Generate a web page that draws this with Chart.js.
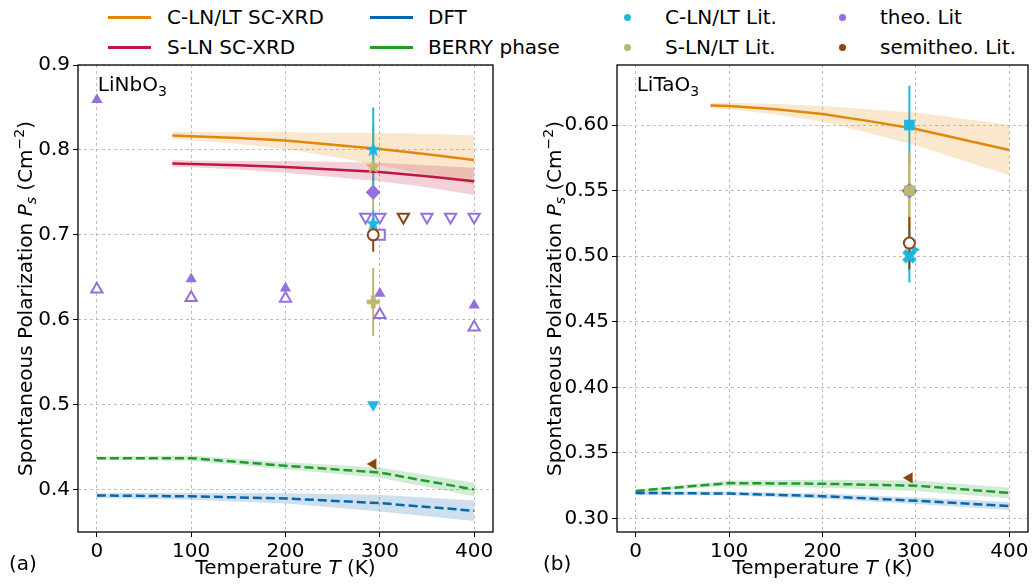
<!DOCTYPE html>
<html>
<head>
<meta charset="utf-8">
<script src="https://cdn.jsdelivr.net/npm/chart.js@4.4.0/dist/chart.umd.min.js"></script>
<style>
  body { margin: 0; background: #fff; width: 1036px; height: 585px; overflow: hidden; position: relative; font-family: "DejaVu Sans", sans-serif; }
  .panel { position: absolute; top: 0; width: 518px; height: 585px; }
  #legend div { position: absolute; }
  #legend .txt { font-size: 20px; line-height: 24px; height: 24px; white-space: nowrap; color: #000; }
</style>
</head>
<body>
<div id="legend"></div>
<div class="panel" style="left:0"><canvas id="chartLN" width="518" height="585"></canvas></div>
<div class="panel" style="left:518px"><canvas id="chartLT" width="518" height="585"></canvas></div>
<script>
// ticks
var xTicks = [0, 100, 200, 300, 400];
var lnYTicks = [0.4, 0.5, 0.6, 0.7, 0.8, 0.9];
var ltYTicks = [0.30, 0.35, 0.40, 0.45, 0.50, 0.55, 0.60];

// SC-XRD curves (value and half width of the shaded band)
var xrdT = [80, 100, 150, 200, 250, 300, 350, 400];
var lnCxrd = [0.817, 0.816, 0.814, 0.811, 0.806, 0.801, 0.795, 0.788];
var lnCxrdErr = [0.004, 0.005, 0.007, 0.010, 0.014, 0.019, 0.024, 0.029];
var lnSxrd = [0.784, 0.7835, 0.782, 0.780, 0.777, 0.774, 0.769, 0.763];
var lnSxrdErr = [0.004, 0.004, 0.005, 0.007, 0.009, 0.011, 0.013, 0.016];
var ltCxrd = [0.615, 0.6145, 0.612, 0.6085, 0.603, 0.597, 0.589, 0.581];
var ltCxrdErr = [0.002, 0.0025, 0.004, 0.006, 0.009, 0.0125, 0.016, 0.019];

// DFT / Berry phase curves
var calcT = [0, 100, 200, 300, 400];
var lnDft = [0.393, 0.392, 0.3895, 0.384, 0.375];
var lnDftErr = [0.003, 0.004, 0.006, 0.010, 0.012];
var lnBerry = [0.437, 0.437, 0.428, 0.420, 0.400];
var lnBerryErr = [0.002, 0.003, 0.004, 0.006, 0.008];
var ltDft = [0.3195, 0.319, 0.317, 0.3135, 0.3095];
var ltDftErr = [0.0015, 0.0015, 0.002, 0.0025, 0.003];
var ltBerry = [0.321, 0.327, 0.3265, 0.325, 0.3195];
var ltBerryErr = [0.001, 0.002, 0.003, 0.004, 0.004];

// literature points: [T, Ps, error]
var lnTheoUpFilled = [[0, 0.859], [100, 0.648], [200, 0.637], [300, 0.631], [400, 0.617]];
var lnTheoUpOpen = [[0, 0.636], [100, 0.626], [200, 0.625], [300, 0.606], [400, 0.591]];
var lnTheoDownOpen = [[285, 0.721], [300, 0.721], [350, 0.721], [375, 0.721], [400, 0.721]];
var lnTheoDiamond = [[293, 0.750]];
var lnTheoSquare = [[300, 0.700]];
var lnSemiDownOpen = [[325, 0.721]];
var lnSemiCircle = [[293, 0.700, 0.020]];
var lnSemiLeft = [[293, 0.430]];
var lnCLitStar = [[293, 0.800, 0.050], [293, 0.713, 0.017]];
var lnCLitDown = [[293, 0.500]];
var lnSLitStar = [[293, 0.780, 0.050]];
var lnSLitPlus = [[293, 0.621, 0.040]];

var ltCLitSquare = [[293, 0.600, 0.030]];
var ltCLitX = [[293, 0.500, 0.020]];
var ltCLitRight = [[299, 0.505]];
var ltSLitSquare = [[293, 0.550, 0.030]];
var ltTheoDiamond = [[293, 0.550]];
var ltSemiCircle = [[293, 0.510, 0.020]];
var ltSemiLeft = [[293, 0.331]];

var lineNames = ['C-LN/LT SC-XRD', 'S-LN SC-XRD', 'DFT', 'BERRY phase'];
var litNames = ['C-LN/LT Lit.', 'S-LN/LT Lit.', 'theo. Lit', 'semitheo. Lit.'];

var ORANGE = '#e3870b', CRIMSON = '#bf1742', BLUE = '#0866ab', GREEN = '#1f9a2b';
var CYAN = '#1eb6de', OLIVE = '#bdb76b', PURPLE = '#9370db', BROWN = '#8b4513';
var FONT = '"DejaVu Sans", sans-serif';

// legend
(function () {
  var leg = document.getElementById('legend');
  var rows = [17, 47];
  function add(html, style) {
    var d = document.createElement('div');
    d.innerHTML = html;
    d.setAttribute('style', style);
    leg.appendChild(d);
    return d;
  }
  var lineCols = [[108, 167], [370, 428]];
  var lineColors = [ORANGE, CRIMSON, BLUE, GREEN];
  lineNames.forEach(function (name, i) {
    var col = lineCols[Math.floor(i / 2)], y = rows[i % 2];
    add('', 'left:' + col[0] + 'px;top:' + (y - 1) + 'px;width:43px;height:3px;background:' + lineColors[i]);
    var t = add('', 'left:' + col[1] + 'px;top:' + (y - 12) + 'px');
    t.className = 'txt';
    t.textContent = name;
  });
  var dotCols = [[627, 665], [842, 880]];
  var dotColors = [CYAN, OLIVE, PURPLE, BROWN];
  litNames.forEach(function (name, i) {
    var col = dotCols[Math.floor(i / 2)], y = rows[i % 2];
    add('', 'left:' + (col[0] - 3.5) + 'px;top:' + (y - 3.5) + 'px;width:7px;height:7px;border-radius:50%;background:' + dotColors[i]);
    var t = add('', 'left:' + col[1] + 'px;top:' + (y - 12) + 'px');
    t.className = 'txt';
    t.textContent = name;
  });
})();

function glyph(kind, color, r) {
  var s = Math.ceil(2 * r + 2);
  var c = document.createElement('canvas');
  c.width = s; c.height = s;
  var g = c.getContext('2d');
  g.translate(s / 2, s / 2);
  g.fillStyle = color;
  g.beginPath();
  if (kind === 'star') {
    for (var i = 0; i < 10; i++) {
      var a = -Math.PI / 2 + i * Math.PI / 5;
      var rr = i % 2 ? r * 0.42 : r;
      g.lineTo(rr * Math.cos(a), rr * Math.sin(a));
    }
  } else {
    if (kind === 'x') g.rotate(Math.PI / 4);
    var w = r * 0.36;
    [[-w, -r], [w, -r], [w, -w], [r, -w], [r, w], [w, w], [w, r], [-w, r], [-w, w], [-r, w], [-r, -w], [-w, -w]]
      .forEach(function (p) { g.lineTo(p[0], p[1]); });
  }
  g.closePath();
  g.fill();
  return c;
}

function pts(xs, ys) {
  return xs.map(function (x, i) { return { x: x, y: ys[i] }; });
}

function curve(xs, ys, color, dashed) {
  return { type: 'line', data: pts(xs, ys), borderColor: color, borderWidth: 2.5,
    borderDash: dashed ? [9, 4] : [], pointRadius: 0, fill: false, tension: 0, showLine: true };
}

function band(xs, ys, hw, color) {
  var lo = ys.map(function (v, i) { return v - hw[i]; });
  var hi = ys.map(function (v, i) { return v + hw[i]; });
  return [
    { type: 'line', data: pts(xs, lo), borderColor: 'transparent', borderWidth: 0, pointRadius: 0, fill: false, showLine: true },
    { type: 'line', data: pts(xs, hi), borderColor: 'transparent', borderWidth: 0, pointRadius: 0, fill: '-1', backgroundColor: color, showLine: true }
  ];
}

function marks(list, o) {
  return {
    type: 'scatter', showLine: false,
    data: list.map(function (p) { return { x: p[0], y: p[1] }; }),
    errs: list.map(function (p) { return p[2] || 0; }),
    errColor: o.color,
    pointStyle: o.style, pointRadius: o.r || 6,
    pointBackgroundColor: o.open ? '#ffffff' : o.color,
    pointBorderColor: o.color, pointBorderWidth: o.open ? 2 : 0,
    pointRotation: o.rot || 0
  };
}

var errorBars = {
  id: 'errorBars',
  beforeDatasetsDraw: function (chart) {
    var ctx = chart.ctx, xs = chart.scales.x, ys = chart.scales.y;
    chart.data.datasets.forEach(function (ds) {
      if (!ds.errs) return;
      ctx.save();
      ctx.strokeStyle = ds.errColor;
      ctx.lineWidth = 2;
      ds.data.forEach(function (p, i) {
        var e = ds.errs[i];
        if (!e) return;
        var px = xs.getPixelForValue(p.x);
        ctx.beginPath();
        ctx.moveTo(px, ys.getPixelForValue(p.y - e));
        ctx.lineTo(px, ys.getPixelForValue(p.y + e));
        ctx.stroke();
      });
      ctx.restore();
    });
  }
};

function drawRich(ctx, segs, x, y, angle) {
  function fontFor(s) { return (s.it ? 'italic ' : '') + (s.sub || s.sup ? 14 : 20) + 'px ' + FONT; }
  var w = 0;
  segs.forEach(function (s) { ctx.font = fontFor(s); s.w = ctx.measureText(s.t).width; w += s.w; });
  ctx.save();
  ctx.translate(x, y);
  ctx.rotate(angle);
  ctx.fillStyle = '#000';
  ctx.textBaseline = 'alphabetic';
  var cx = -w / 2;
  segs.forEach(function (s) {
    ctx.font = fontFor(s);
    ctx.fillText(s.t, cx, s.sub ? 4 : (s.sup ? -8 : 0));
    cx += s.w;
  });
  ctx.restore();
}

function textPlugin(label, compound, titleX, panelX) {
  return {
    id: 'texts',
    afterDatasetsDraw: function (chart) {
      var a = chart.chartArea, ctx = chart.ctx;
      ctx.save();
      ctx.strokeStyle = '#000';
      ctx.lineWidth = 1.3;
      ctx.strokeRect(a.left, a.top, a.right - a.left, a.bottom - a.top);
      ctx.restore();
    },
    afterDraw: function (chart) {
      var a = chart.chartArea, ctx = chart.ctx;
      // compound label in the corner
      ctx.save();
      ctx.fillStyle = '#000';
      ctx.textBaseline = 'alphabetic';
      ctx.font = '20px ' + FONT;
      var lx = chart.scales.x.getPixelForValue(0) + 1;
      ctx.fillText(compound, lx, 91);
      var cw = ctx.measureText(compound).width;
      ctx.font = '14px ' + FONT;
      ctx.fillText('3', lx + cw, 96);
      ctx.font = '20px ' + FONT;
      ctx.fillText(label, panelX, 570);
      ctx.restore();
      drawRich(ctx, [{ t: 'Temperature ' }, { t: 'T', it: true }, { t: ' (K)' }], (a.left + a.right) / 2, 574, 0);
      drawRich(ctx, [{ t: 'Spontaneous Polarization ' }, { t: 'P', it: true }, { t: 's', it: true, sub: true },
        { t: ' (Cm' }, { t: '\u22122', sup: true }, { t: ')' }], titleX, (a.top + a.bottom) / 2, -Math.PI / 2);
    }
  };
}

function makeChart(id, datasets, yMin, yMax, yTicks, digits, yWidth, padRight, plugin) {
  datasets.forEach(function (d, i) { d.order = datasets.length - i; });
  return new Chart(document.getElementById(id), {
    type: 'scatter',
    data: { datasets: datasets },
    options: {
      responsive: false,
      animation: false,
      events: [],
      layout: { padding: { top: 65, right: padRight, left: 0, bottom: 0 } },
      plugins: { legend: { display: false }, tooltip: { enabled: false } },
      scales: {
        x: {
          type: 'linear', min: -20, max: 420,
          afterBuildTicks: function (s) { s.ticks = xTicks.map(function (v) { return { value: v }; }); },
          afterFit: function (s) { s.height = 53; },
          ticks: { color: '#000', font: { family: FONT, size: 20 }, padding: 3, maxRotation: 0, autoSkip: false },
          grid: { color: '#b0b0b0', lineWidth: 0.8, tickColor: '#000', tickLength: 5, tickWidth: 1, tickBorderDash: [] },
          border: { display: false, dash: [3, 3] }
        },
        y: {
          type: 'linear', min: yMin, max: yMax,
          afterBuildTicks: function (s) { s.ticks = yTicks.map(function (v) { return { value: v }; }); },
          afterFit: function (s) { s.width = yWidth; },
          ticks: { color: '#000', font: { family: FONT, size: 20 }, padding: 3, autoSkip: false,
            callback: function (v) { return v.toFixed(digits); } },
          grid: { color: '#b0b0b0', lineWidth: 0.8, tickColor: '#000', tickLength: 5, tickWidth: 1, tickBorderDash: [] },
          border: { display: false, dash: [3, 3] }
        }
      }
    },
    plugins: [errorBars, plugin]
  });
}

var lnSets = [].concat(
  band(xrdT, lnCxrd, lnCxrdErr, 'rgba(227,135,11,0.2)'),
  band(xrdT, lnSxrd, lnSxrdErr, 'rgba(191,23,66,0.2)'),
  band(calcT, lnDft, lnDftErr, 'rgba(8,102,171,0.2)'),
  band(calcT, lnBerry, lnBerryErr, 'rgba(31,154,43,0.2)'),
  [
    curve(xrdT, lnCxrd, ORANGE, false),
    curve(xrdT, lnSxrd, CRIMSON, false),
    curve(calcT, lnDft, BLUE, true),
    curve(calcT, lnBerry, GREEN, true),
    marks(lnTheoUpFilled, { color: PURPLE, style: 'triangle', r: 6.5 }),
    marks(lnTheoUpOpen, { color: PURPLE, style: 'triangle', r: 6.5, open: true }),
    marks(lnTheoDownOpen, { color: PURPLE, style: 'triangle', r: 6.5, open: true, rot: 180 }),
    marks(lnTheoDiamond, { color: PURPLE, style: 'rectRot', r: 7.5 }),
    marks(lnTheoSquare, { color: PURPLE, style: 'rect', r: 7, open: true }),
    marks(lnSLitStar, { color: OLIVE, style: glyph('star', OLIVE, 8) }),
    marks(lnSLitPlus, { color: OLIVE, style: glyph('plus', OLIVE, 6.5) }),
    marks(lnCLitStar, { color: CYAN, style: glyph('star', CYAN, 8) }),
    marks(lnCLitDown, { color: CYAN, style: 'triangle', r: 7, rot: 180 }),
    marks(lnSemiDownOpen, { color: BROWN, style: 'triangle', r: 6.5, open: true, rot: 180 }),
    marks(lnSemiLeft, { color: BROWN, style: 'triangle', r: 6.5, rot: 270 }),
    marks(lnSemiCircle, { color: BROWN, style: 'circle', r: 5.5, open: true })
  ]
);

var ltSets = [].concat(
  band(xrdT, ltCxrd, ltCxrdErr, 'rgba(227,135,11,0.2)'),
  band(calcT, ltDft, ltDftErr, 'rgba(8,102,171,0.2)'),
  band(calcT, ltBerry, ltBerryErr, 'rgba(31,154,43,0.2)'),
  [
    curve(xrdT, ltCxrd, ORANGE, false),
    curve(calcT, ltDft, BLUE, true),
    curve(calcT, ltBerry, GREEN, true),
    marks(ltCLitSquare, { color: CYAN, style: 'rect', r: 7.5 }),
    marks(ltCLitRight, { color: CYAN, style: 'triangle', r: 5, rot: 90 }),
    marks(ltCLitX, { color: CYAN, style: glyph('x', CYAN, 7.5) }),
    marks(ltSLitSquare, { color: OLIVE, style: 'rect', r: 0 }),
    marks(ltTheoDiamond, { color: PURPLE, style: 'rectRot', r: 8 }),
    marks(ltSLitSquare, { color: OLIVE, style: 'rect', r: 7.5 }),
    marks(ltSemiCircle, { color: BROWN, style: 'circle', r: 5.5, open: true }),
    marks(ltSemiLeft, { color: BROWN, style: 'triangle', r: 6.5, rot: 270 })
  ]
);

makeChart('chartLN', lnSets, 0.35, 0.9, lnYTicks, 1, 78, 25, textPlugin('(a)', 'LiNbO', 32, 9));
makeChart('chartLT', ltSets, 0.2897, 0.6458, ltYTicks, 2, 99, 3, textPlugin('(b)', 'LiTaO', 43, 25));
</script>
</body>
</html>
